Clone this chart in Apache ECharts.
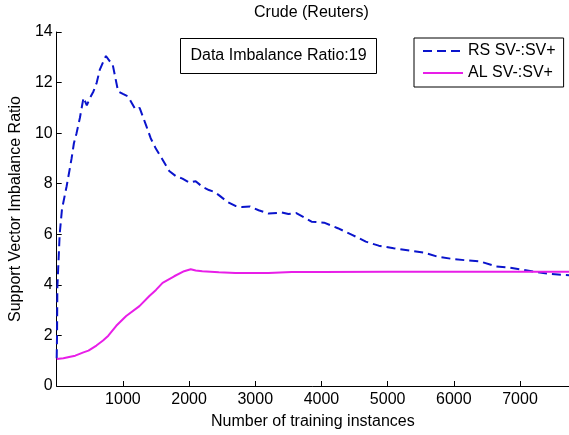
<!DOCTYPE html>
<html>
<head>
<meta charset="utf-8">
<script src="https://cdn.jsdelivr.net/npm/echarts@6/dist/echarts.min.js"></script>
<style>
html,body{margin:0;padding:0;background:#fff;}
#chart{width:569px;height:435px;}
</style>
</head>
<body>
<div id="chart"></div>
<script>
// Data
const rsX = [0,5,10,20,45,80,150,205,225,260,300,350,405,455,505,555,605,650,700,744,800,843,928,1000,1078,1188,1253,1352,1420,1502,1600,1700,1800,1900,2000,2100,2200,2300,2375,2450,2575,2700,2800,2920,3050,3200,3400,3500,3620,3750,3850,4040,4247,4470,4670,4865,5090,5345,5545,5745,5990,6190,6390,6640,6815,7040,7240,7465,7740];
const rsY = [1.1,2.0,3.9,4.5,6.0,7.0,7.9,8.7,9.0,9.6,10.0,10.6,11.4,11.1,11.4,11.65,12.0,12.5,12.8,13.05,12.85,12.75,11.65,11.55,11.45,10.94,11.0,10.3,9.8,9.37,8.95,8.5,8.3,8.2,8.05,8.1,7.88,7.75,7.68,7.55,7.29,7.12,7.08,7.1,6.95,6.82,6.86,6.8,6.84,6.65,6.5,6.46,6.24,5.97,5.71,5.55,5.45,5.35,5.28,5.12,5.02,4.97,4.93,4.73,4.69,4.6,4.51,4.43,4.38];
const alX = [0,100,205,280,404,480,600,700,780,900,1050,1250,1400,1500,1600,1775,1925,2025,2100,2200,2450,2700,3200,3550,4000,5000,6000,7000,7740];
const alY = [1.07,1.1,1.16,1.2,1.33,1.4,1.6,1.8,1.99,2.38,2.77,3.16,3.56,3.8,4.08,4.34,4.54,4.62,4.57,4.54,4.5,4.47,4.47,4.51,4.51,4.52,4.52,4.52,4.52];
const seriesNames = ['RS SV-:SV+', 'AL SV-:SV+'];
const titleText = 'Crude (Reuters)';
const noteText = 'Data Imbalance Ratio:19';
const xName = 'Number of training instances';
const yName = 'Support Vector Imbalance Ratio';

const zip = (xs, ys) => xs.map((x, i) => [x, ys[i]]);
const FONT = '"Liberation Sans", Arial, sans-serif';

const chart = echarts.init(document.getElementById('chart'), null, {renderer: 'canvas'});
chart.setOption({
  backgroundColor: '#fff',
  animation: false,
  title: {
    text: titleText,
    left: 254, top: 5, padding: 0,
    textStyle: {fontFamily: FONT, fontSize: 16, fontWeight: 'normal', color: '#000'}
  },
  legend: {
    data: seriesNames,
    orient: 'vertical',
    left: 414, top: 38,
    padding: [5, 8, 6, 8],
    itemWidth: 40, itemHeight: 14, itemGap: 6,
    borderColor: '#000', borderWidth: 1,
    backgroundColor: '#fff',
    itemStyle: {opacity: 0},
    textStyle: {fontFamily: FONT, fontSize: 16, color: '#000'}
  },
  grid: {left: 53, top: 32, width: 517, height: 357, containLabel: false},
  xAxis: {
    type: 'value', min: 0, max: 7740, interval: 1000,
    name: xName, nameLocation: 'middle', nameGap: 28,
    nameTextStyle: {fontFamily: FONT, fontSize: 16, color: '#000'},
    axisLine: {show: true, lineStyle: {color: '#000', width: 1}},
    axisTick: {show: true, inside: true, length: 5, lineStyle: {color: '#000'}},
    axisLabel: {
      fontFamily: FONT, fontSize: 16, color: '#000', margin: 6,
      showMaxLabel: false,
      formatter: v => (v > 0 && v % 1000 === 0) ? String(v) : ''
    },
    splitLine: {show: false}
  },
  yAxis: {
    type: 'value', min: 0, max: 14, interval: 2,
    name: yName, nameLocation: 'middle', nameGap: 26,
    nameTextStyle: {fontFamily: FONT, fontSize: 16, color: '#000'},
    axisLine: {show: true, lineStyle: {color: '#000', width: 1}},
    axisTick: {show: true, inside: true, length: 5, lineStyle: {color: '#000'}},
    axisLabel: {fontFamily: FONT, fontSize: 16, color: '#000', margin: 4},
    splitLine: {show: false}
  },
  graphic: [{
    type: 'group',
    left: 180, top: 38,
    children: [
      {type: 'rect', shape: {x: 0, y: 0, width: 196, height: 35}, style: {fill: '#fff', stroke: '#000', lineWidth: 1}},
      {type: 'text', x: 98, y: 17.5, style: {text: noteText, fontFamily: FONT, fontSize: 16, fill: '#000', align: 'center', verticalAlign: 'middle'}}
    ]
  }],
  series: [
    {
      name: seriesNames[0], type: 'line', data: zip(rsX, rsY),
      showSymbol: false, symbol: 'none',
      lineStyle: {color: '#0a14cc', width: 2, type: [9, 5]},
      itemStyle: {color: '#0a14cc'}
    },
    {
      name: seriesNames[1], type: 'line', data: zip(alX, alY),
      showSymbol: false, symbol: 'none',
      lineStyle: {color: '#e81ee8', width: 2},
      itemStyle: {color: '#e81ee8'}
    }
  ]
});
</script>
</body>
</html>
